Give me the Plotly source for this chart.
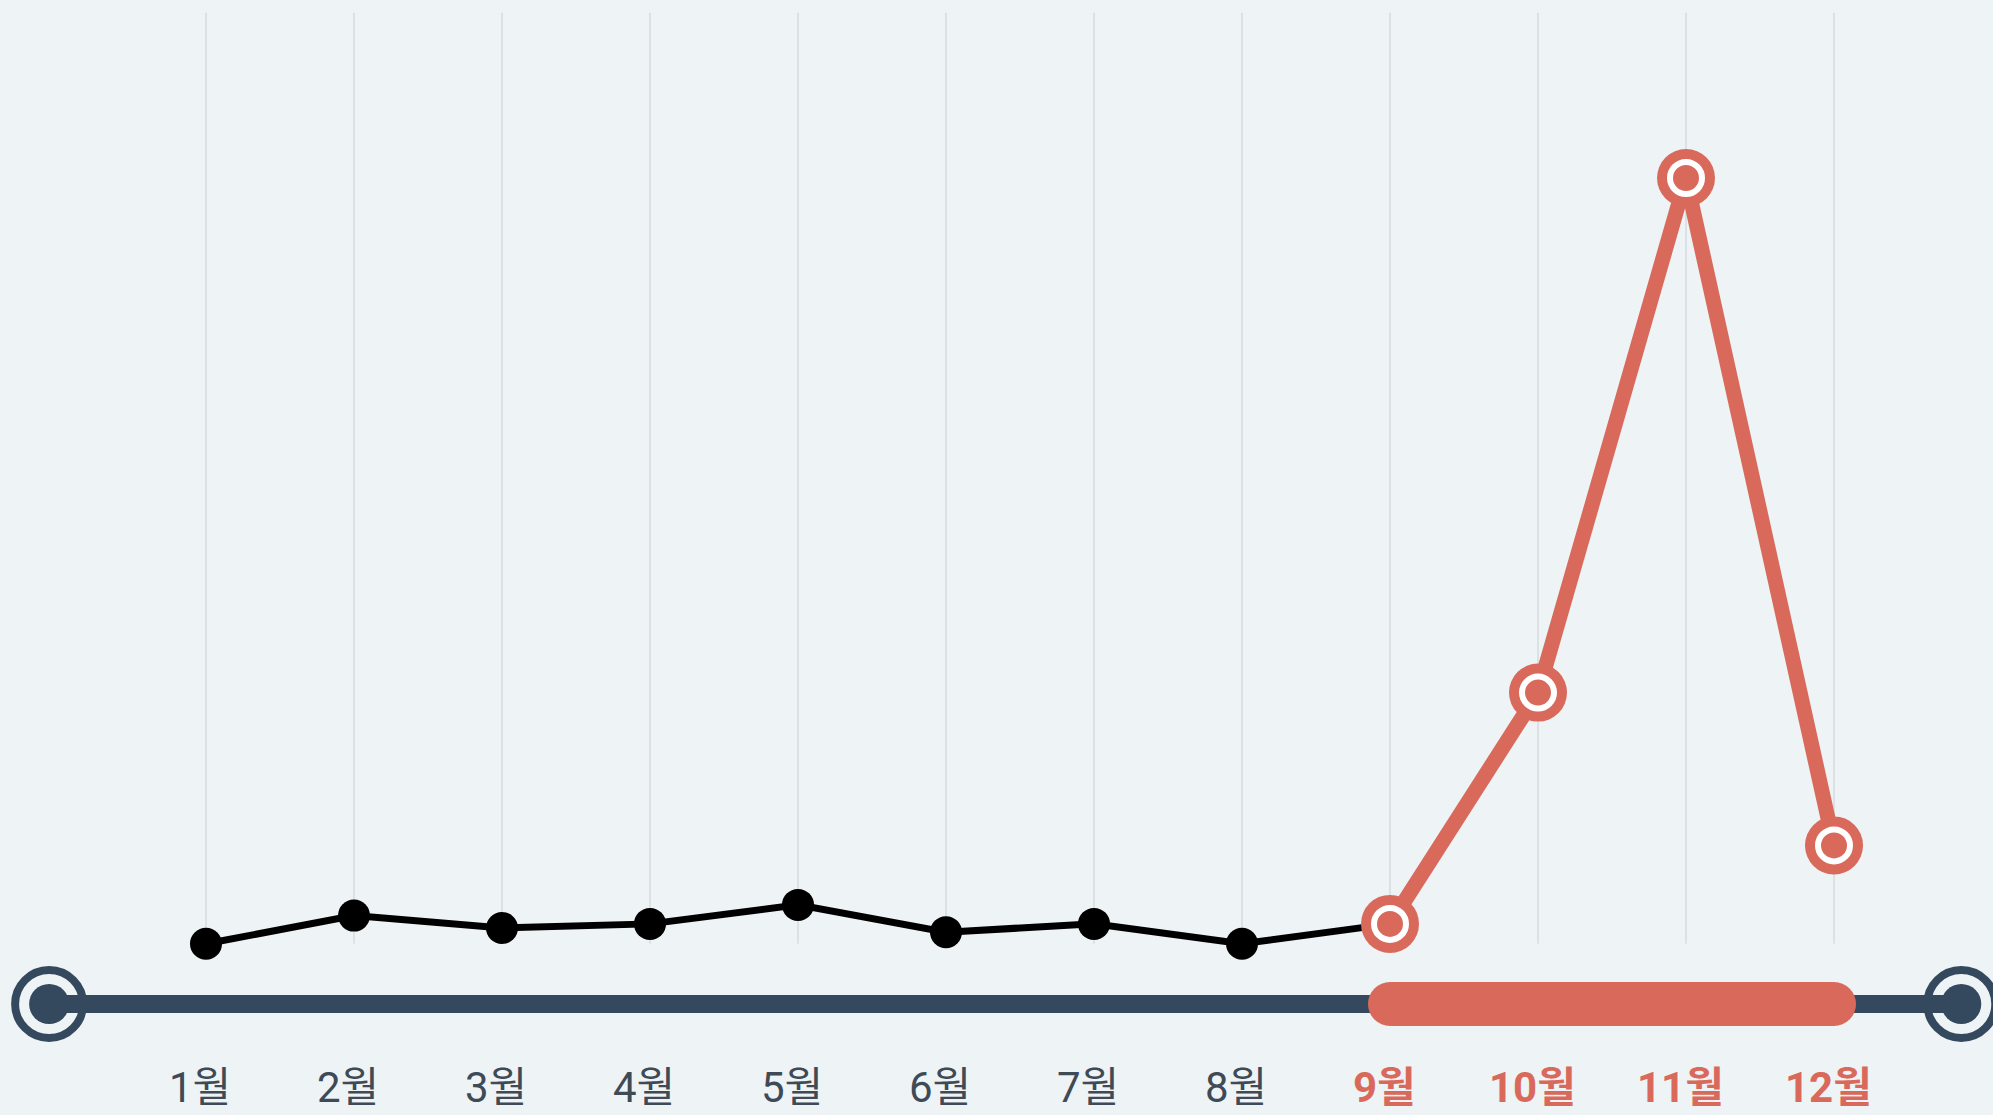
import plotly.graph_objects as go

# ---- data ----
months = list(range(1, 13))
month_labels = ["1월", "2월", "3월", "4월", "5월", "6월", "7월", "8월", "9월", "10월", "11월", "12월"]
values = [7.3, 10.7, 9.2, 9.7, 12.0, 8.7, 9.7, 7.3, 9.7, 37.7, 100.0, 19.2]
highlight_start = 9          # months 9..12 highlighted
timeline_ends = [-0.06, 12.86]  # timeline endpoint positions (month units)
grid_top = 120.0

BG = "#EEF3F6"
NAVY = "#34495E"
RED = "#D96A5B"
GRID = "#C9D0D6"
TEXT = "#3E4A56"

W, H = 1993, 1115
PX_PER_MONTH = 148.0
PX_PER_UNIT = 8.26
X_FIRST_PX = 206     # pixel of month 1
Y_ZERO_PX = 1004     # pixel of timeline (value 0)
LABEL_Y_PX = 1087

fig = go.Figure()

# gridlines
for m in months:
    fig.add_shape(type="line", x0=m, x1=m, y0=min(values), y1=grid_top,
                  line=dict(color=GRID, width=1), layer="below")

# timeline base
fig.add_trace(go.Scatter(x=timeline_ends, y=[0, 0], mode="lines",
                         line=dict(color=NAVY, width=18), hoverinfo="skip"))
# highlighted segment with rounded caps
hl = [highlight_start, months[-1]]
fig.add_trace(go.Scatter(x=hl, y=[0, 0], mode="lines+markers",
                         line=dict(color=RED, width=44),
                         marker=dict(size=44, color=RED, line=dict(width=0)),
                         hoverinfo="skip"))
# timeline end markers
fig.add_trace(go.Scatter(x=timeline_ends, y=[0, 0], mode="markers",
                         marker=dict(symbol="circle-open", size=68, color=NAVY,
                                     line=dict(width=8, color=NAVY)),
                         hoverinfo="skip"))
fig.add_trace(go.Scatter(x=timeline_ends, y=[0, 0], mode="markers",
                         marker=dict(size=40, color=NAVY, line=dict(width=0)),
                         hoverinfo="skip"))

# black series (1..9)
idx = highlight_start - 1
fig.add_trace(go.Scatter(x=months[:idx + 1], y=values[:idx + 1], mode="lines",
                         line=dict(color="#000000", width=7), hoverinfo="skip"))
fig.add_trace(go.Scatter(x=months[:idx], y=values[:idx], mode="markers",
                         marker=dict(size=32, color="#000000", line=dict(width=0)),
                         hoverinfo="skip"))
# red series (9..12)
fig.add_trace(go.Scatter(x=months[idx:], y=values[idx:], mode="lines",
                         line=dict(color=RED, width=15), hoverinfo="skip"))
fig.add_trace(go.Scatter(x=months[idx:], y=values[idx:], mode="markers",
                         marker=dict(size=58, color=RED, line=dict(width=0)),
                         hoverinfo="skip"))
fig.add_trace(go.Scatter(x=months[idx:], y=values[idx:], mode="markers",
                         marker=dict(size=32, color=RED, line=dict(width=6, color="white")),
                         hoverinfo="skip"))

# month labels
for m, lab in zip(months, month_labels):
    hot = m >= highlight_start
    fig.add_annotation(x=m, y=1 - LABEL_Y_PX / H, yref="paper", text=lab,
                       showarrow=False, xshift=-6,
                       font=dict(family="Roboto, 'Noto Sans CJK KR'", size=42,
                                 color=RED if hot else TEXT,
                                 weight=700 if hot else 400),
                       xanchor="center", yanchor="middle")

x0 = 1 - X_FIRST_PX / PX_PER_MONTH
fig.update_layout(
    width=W, height=H,
    margin=dict(l=0, r=0, t=0, b=0),
    paper_bgcolor=BG, plot_bgcolor=BG,
    showlegend=False,
    xaxis=dict(range=[x0, x0 + W / PX_PER_MONTH], visible=False, fixedrange=True),
    yaxis=dict(range=[-(H - Y_ZERO_PX) / PX_PER_UNIT, Y_ZERO_PX / PX_PER_UNIT],
               visible=False, fixedrange=True),
)

fig.write_html("out.html",
               config={"displayModeBar": False},
               post_script="document.body.style.margin='0';"
                           "document.body.style.background='%s';" % BG)
